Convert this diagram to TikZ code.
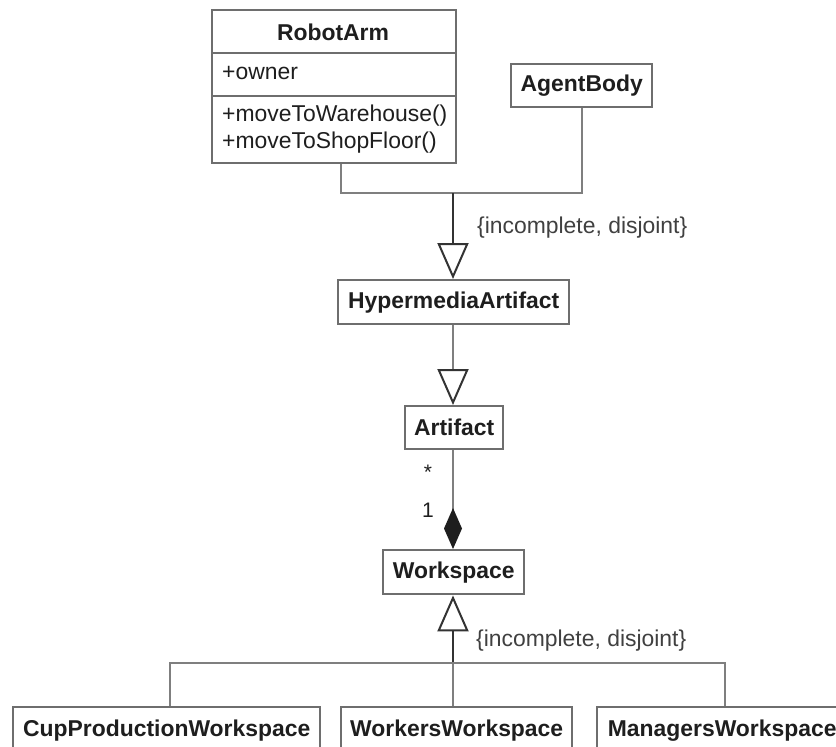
\documentclass[tikz,border=0pt]{standalone}
\usepackage{fontspec}
\setmainfont{Liberation Sans}
\usetikzlibrary{arrows.meta}

\definecolor{boxline}{HTML}{6E6E6E}
\definecolor{wire}{HTML}{7F7F7F}
\definecolor{stem}{HTML}{333333}
\definecolor{ink}{HTML}{1E1E1E}

\tikzset{
  classbox/.style={draw=boxline, line width=2.4pt, fill=white, inner sep=0pt,
    text=ink, font=\fontsize{22.9}{27}\selectfont\bfseries, anchor=north west},
  member/.style={text=ink, font=\fontsize{22.9}{27}\selectfont, inner sep=0pt, anchor=west},
  note/.style={text=ink!85, font=\fontsize{22.9}{27}\selectfont, inner sep=0pt, anchor=west},
  mult/.style={text=ink, font=\fontsize{21}{24}\selectfont, inner sep=0pt},
  wireline/.style={draw=wire, line width=2pt},
  stemline/.style={draw=stem, line width=2.6pt},
  inherit/.style={-{Triangle[open, length=36pt, width=31pt, line width=2pt, color=stem]}},
  compose/.style={-{Diamond[length=41pt, width=18pt, color=ink, fill=ink]}},
}

\begin{document}
\begin{tikzpicture}[x=1pt, y=-1pt]
  \useasboundingbox (0,0) rectangle (836,747);
  \clip (0,0) rectangle (836,747);
  \fill[white] (0,0) rectangle (836,747);

  % RobotArm class with attribute and operation compartments
  \node[classbox, minimum width=244pt, minimum height=153pt] (robot) at (211,9) {};
  \draw[boxline, line width=2.4pt] (211,53) -- (455,53);
  \draw[boxline, line width=2.4pt] (211,96) -- (455,96);
  \node[text=ink, font=\fontsize{22.9}{27}\selectfont\bfseries, inner sep=0pt] (robottitle) at (333,32) {RobotArm};
  \node[member] (owner) at (222,73) {+owner};
  \node[member] (opA) at (222,116) {+moveToWarehouse()};
  \node[member] (opB) at (222,143) {+moveToShopFloor()};

  % Plain classes
  \node[classbox, minimum width=141pt, minimum height=43pt] (agent) at (510,63) {AgentBody};
  \node[classbox, minimum width=231pt, minimum height=44pt] (hyper) at (337,279) {HypermediaArtifact};
  \node[classbox, minimum width=98pt, minimum height=43pt] (artifact) at (404,405) {Artifact};
  \node[classbox, minimum width=141pt, minimum height=44pt] (workspace) at (382,549) {Workspace};
  \node[classbox, minimum width=307pt, minimum height=46pt] (cup) at (12,706) {CupProductionWorkspace};
  \node[classbox, minimum width=231pt, minimum height=46pt] (workers) at (340,706) {WorkersWorkspace};
  \node[classbox, minimum width=250pt, minimum height=46pt] (managers) at (596,706) {ManagersWorkspace};

  % Junction points of the generalization sets
  \coordinate (joinTop) at (453,193);
  \coordinate (joinBot) at (453,663);

  % RobotArm / AgentBody specialize HypermediaArtifact
  \draw[wireline] ([xshift=7pt]robot.south) |- (joinTop);
  \draw[wireline] (agent.south) |- (joinTop);
  \draw[stemline, inherit] (joinTop) -- (hyper.north -| joinTop);
  \node[note] (setTop) at (477,228) {\{incomplete, disjoint\}};

  % HypermediaArtifact specializes Artifact
  \draw[wireline, inherit] (hyper.south -| joinTop) -- (artifact.north -| joinTop);

  % Workspace composes Artifacts
  \draw[wireline, compose] (artifact.south -| joinTop) -- (workspace.north -| joinTop);
  \node[mult] (many) at (428,472) {*};
  \node[mult] (one) at (428,510) {1};

  % Workspace specializations
  \draw[stemline, inherit] (joinBot) -- (workspace.south -| joinBot);
  \draw[wireline] ([xshift=3.5pt]cup.north) |- (joinBot);
  \draw[wireline] ([xshift=3pt]managers.north) |- (joinBot);
  \draw[wireline] (workers.north -| joinBot) -- (joinBot);
  \node[note] (setBot) at (476,641) {\{incomplete, disjoint\}};
\end{tikzpicture}
\end{document}
